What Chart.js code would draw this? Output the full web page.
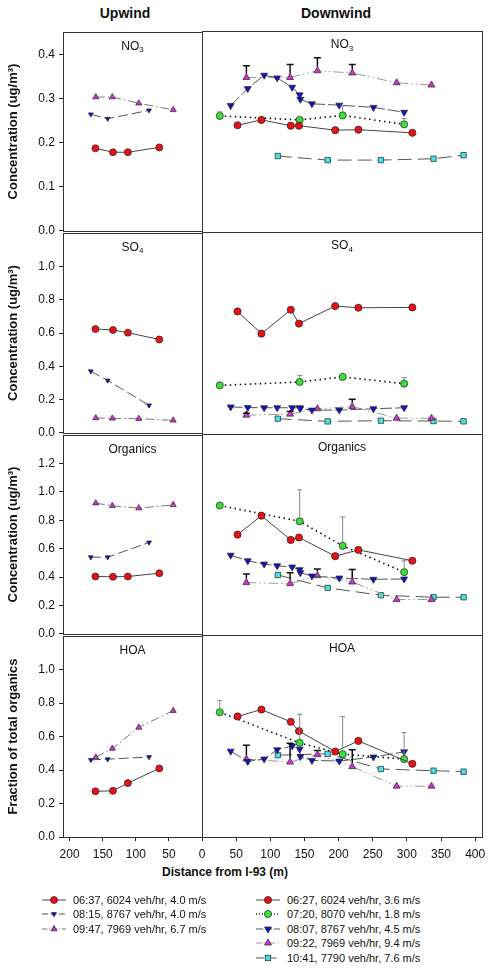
<!DOCTYPE html>
<html>
<head>
<meta charset="utf-8">
<script src="https://cdn.jsdelivr.net/npm/chart.js@4.4.1/dist/chart.umd.min.js"></script>
<style>
  html, body { margin: 0; padding: 0; background: #fff; }
  body { width: 491px; height: 970px; position: relative; overflow: hidden;
         font-family: "Liberation Sans", Arial, sans-serif; color: #111; }
  canvas { position: absolute; }
  .hdr { position: absolute; top: 5px; font-weight: bold; font-size: 14px;
         transform: translateX(-50%); white-space: nowrap; }
  #xtitle { position: absolute; left: 225px; top: 865px; transform: translateX(-50%);
            font-weight: bold; font-size: 12px; white-space: nowrap; }
  .leg { position: absolute; font-size: 11px; white-space: nowrap; line-height: 14px; }
  .leg svg { position: absolute; left: -31px; top: 2px; }
</style>
</head>
<body>
<div class="hdr" style="left:125px">Upwind</div>
<div class="hdr" style="left:336px">Downwind</div>
<div id="xtitle">Distance from I-93 (m)</div>

<script>
// distances from I-93 (m), per run
const upDist0637 = [161, 134.5, 112, 64.5];
const upDist0815 = [168, 142.5, 80];
const upDist0947 = [160.5, 135.5, 95.5, 43.5];
const dnDist0627 = [52, 87, 130, 142, 195, 229, 308];
const dnDist0720 = [26, 143, 206, 296];
const dnDist0807 = [42, 67, 91, 110, 132, 143, 144, 161, 201, 251, 296];
const dnDist0922 = [65, 129, 169, 220, 285, 336];
const dnDist1041 = [111, 184, 262, 339, 383];

// NO3 (ug/m3)
const no3Up0637 = [0.187, 0.178, 0.178, 0.189];
const no3Up0815 = [0.264, 0.254, 0.273];
const no3Up0947 = [0.303, 0.303, 0.289, 0.274];
const no3Dn0627 = [0.239, 0.251, 0.238, 0.238, 0.228, 0.229, 0.222];
const no3Dn0720 = [0.260, 0.251, 0.261, 0.241];
const no3Dn0807 = [0.283, 0.321, 0.351, 0.345, 0.324, 0.307, 0.297, 0.287, 0.284, 0.279, 0.268];
const no3Dn0922 = [0.346, 0.346, 0.361, 0.356, 0.334, 0.329];
const no3Dn1041 = [0.170, 0.161, 0.161, 0.164, 0.172];
const no3Err0720 = [0.269, 0.259, 0.282, 0.254];
const no3Err0922 = [0.372, 0.375, 0.390, 0.375, null, null];

// SO4 (ug/m3)
const so4Up0637 = [0.624, 0.618, 0.602, 0.561];
const so4Up0815 = [0.370, 0.315, 0.165];
const so4Up0947 = [0.089, 0.087, 0.085, 0.075];
const so4Dn0627 = [0.728, 0.596, 0.738, 0.656, 0.760, 0.750, 0.752];
const so4Dn0720 = [0.289, 0.309, 0.339, 0.299];
const so4Dn0807 = [0.161, 0.157, 0.156, 0.156, 0.156, 0.156, 0.152, 0.142, 0.142, 0.150, 0.156];
const so4Dn0922 = [0.112, 0.118, 0.150, 0.163, 0.094, 0.094];
const so4Dn1041 = [0.091, 0.075, 0.079, 0.077, 0.075];
const so4Err0720 = [null, 0.348, null, 0.335];
const so4Err0922 = [0.124, 0.134, null, 0.207, null, null];

// Organics (ug/m3)
const orgUp0637 = [0.404, 0.402, 0.404, 0.427];
const orgUp0815 = [0.540, 0.540, 0.644];
const orgUp0947 = [0.921, 0.902, 0.886, 0.909];
const orgDn0627 = [0.699, 0.831, 0.662, 0.679, 0.549, 0.593, 0.517];
const orgDn0720 = [0.902, 0.792, 0.621, 0.438];
const orgDn0807 = [0.556, 0.517, 0.494, 0.482, 0.473, 0.455, 0.434, 0.411, 0.397, 0.388, 0.390];
const orgDn0922 = [0.365, 0.358, 0.413, 0.369, 0.247, 0.247];
const orgDn1041 = [0.418, 0.328, 0.277, 0.263, 0.263];
const orgErr0720 = [null, 1.011, 0.822, 0.517];
const orgErr0922 = [0.425, 0.434, 0.459, 0.457, null, null];

// HOA (fraction of total organics)
const hoaUp0637 = [0.273, 0.276, 0.322, 0.410];
const hoaUp0815 = [0.461, 0.465, 0.478];
const hoaUp0947 = [0.476, 0.529, 0.655, 0.755];
const hoaDn0627 = [0.716, 0.757, 0.684, 0.629, 0.508, 0.571, 0.435];
const hoaDn0720 = [0.741, 0.559, 0.492, 0.463];
const hoaDn0807 = [0.510, 0.449, 0.463, 0.518, 0.541, 0.522, 0.478, 0.455, 0.451, 0.475, 0.506];
const hoaDn0922 = [0.463, 0.445, 0.490, 0.418, 0.302, 0.302];
const hoaDn1041 = [0.486, 0.494, 0.404, 0.394, 0.388];
const hoaErr0720 = [0.812, 0.729, 0.716, 0.620];
const hoaErr0922 = [0.545, 0.557, 0.514, 0.518, null, null];

// tick labels
const yTicksNO3 = [0, 0.1, 0.2, 0.3, 0.4];
const yTicksSO4 = [0, 0.2, 0.4, 0.6, 0.8, 1.0];
const yTicksOrg = [0, 0.2, 0.4, 0.6, 0.8, 1.0, 1.2];
const yTicksHOA = [0, 0.2, 0.4, 0.6, 0.8, 1.0];
const xTicksUp = [200, 150, 100, 50];
const xTicksDn = [0, 50, 100, 150, 200, 250, 300, 350, 400];

const upLabels = ['06:37, 6024 veh/hr, 4.0 m/s', '08:15, 8767 veh/hr, 4.0 m/s', '09:47, 7969 veh/hr, 6.7 m/s'];
const dnLabels = ['06:27, 6024 veh/hr, 3.6 m/s', '07:20, 8070 veh/hr, 1.8 m/s', '08:07, 8767 veh/hr, 4.5 m/s',
                  '09:22, 7969 veh/hr, 9.4 m/s', '10:41, 7790 veh/hr, 7.6 m/s'];

// styles
const RED = 'rgb(232,18,22)', GREEN = 'rgb(60,222,60)', BLUE = 'rgb(18,18,205)',
      MAG = 'rgb(214,48,214)', CYAN = 'rgb(70,226,232)';
const upStyles = [
  { color: RED, shape: 'circle', rot: 0, r: 3.5, dash: [], line: '#444', lw: 1 },
  { color: BLUE, shape: 'triangle', rot: 180, r: 2.8, dash: [10, 4], line: '#555', lw: 1 },
  { color: MAG, shape: 'triangle', rot: 0, r: 3.5, dash: [9, 3, 1.5, 3], line: '#777', lw: 1 },
];
const dnStyles = [
  { color: RED, shape: 'circle', rot: 0, r: 3.6, dash: [], line: '#444', lw: 1 },
  { color: GREEN, shape: 'circle', rot: 0, r: 3.6, dash: [1.5, 3.5], line: '#111', lw: 1.6 },
  { color: BLUE, shape: 'triangle', rot: 180, r: 4, dash: [12, 3], line: '#555', lw: 1 },
  { color: MAG, shape: 'triangle', rot: 0, r: 4, dash: [10, 3, 1.5, 3, 1.5, 3], line: '#999', lw: 1 },
  { color: CYAN, shape: 'rect', rot: 0, r: 3.8, dash: [14, 6], line: '#555', lw: 1 },
];
const errStyles = { 1: { color: '#888', width: 1, cap: 2.5 }, 3: { color: '#111', width: 1.5, cap: 3.5 } };

const panels = [
  { name: 'NO', sub: '3', max: 0.45, ticks: yTicksNO3, title: 'Concentration (ug/m³)',
    up: [no3Up0637, no3Up0815, no3Up0947],
    dn: [no3Dn0627, no3Dn0720, no3Dn0807, no3Dn0922, no3Dn1041], err: { 1: no3Err0720, 3: no3Err0922 } },
  { name: 'SO', sub: '4', max: 1.2, ticks: yTicksSO4, title: 'Concentration (ug/m³)',
    up: [so4Up0637, so4Up0815, so4Up0947],
    dn: [so4Dn0627, so4Dn0720, so4Dn0807, so4Dn0922, so4Dn1041], err: { 1: so4Err0720, 3: so4Err0922 } },
  { name: 'Organics', sub: '', max: 1.4, ticks: yTicksOrg, title: 'Concentration (ug/m³)',
    up: [orgUp0637, orgUp0815, orgUp0947],
    dn: [orgDn0627, orgDn0720, orgDn0807, orgDn0922, orgDn1041], err: { 1: orgErr0720, 3: orgErr0922 } },
  { name: 'HOA', sub: '', max: 1.2, ticks: yTicksHOA, title: 'Fraction of total organics',
    up: [hoaUp0637, hoaUp0815, hoaUp0947],
    dn: [hoaDn0627, hoaDn0720, hoaDn0807, hoaDn0922, hoaDn1041], err: { 1: hoaErr0720, 3: hoaErr0922 } },
];
const upDists = [upDist0637, upDist0815, upDist0947];
const dnDists = [dnDist0627, dnDist0720, dnDist0807, dnDist0922, dnDist1041];

const rowTops = [31, 232, 434, 635, 837];
const FONT = '"Liberation Sans", Arial, sans-serif';
Chart.defaults.font.family = FONT;
Chart.defaults.color = '#111';

// panel frame + label
const panelDeco = {
  id: 'panelDeco',
  beforeDatasetsDraw(chart, args, opts) {
    const { left, top, right, bottom } = chart.chartArea;
    const ctx = chart.ctx;
    ctx.save();
    ctx.strokeStyle = '#333';
    ctx.lineWidth = 1;
    ctx.strokeRect(Math.floor(left) + 0.5, Math.floor(top) + 0.5, Math.round(right - left), Math.round(bottom - top));
    // panel name, with optional subscript
    ctx.fillStyle = '#111';
    ctx.textBaseline = 'middle';
    ctx.font = '12px ' + FONT;
    const w1 = ctx.measureText(opts.name).width;
    ctx.font = '8px ' + FONT;
    const w2 = opts.sub ? ctx.measureText(opts.sub).width : 0;
    const x0 = (left + right) / 2 - (w1 + w2) / 2;
    const y0 = top + 14;
    ctx.textAlign = 'left';
    ctx.font = '12px ' + FONT;
    ctx.fillText(opts.name, x0, y0);
    if (opts.sub) {
      ctx.font = '8px ' + FONT;
      ctx.fillText(opts.sub, x0 + w1, y0 + 4);
    }
    ctx.restore();
  }
};

// upper error bars
const errBars = {
  id: 'errBars',
  afterDatasetsDraw(chart) {
    const ctx = chart.ctx, ys = chart.scales.y;
    chart.data.datasets.forEach((ds, i) => {
      if (!ds.errTop) return;
      const meta = chart.getDatasetMeta(i);
      ds.errTop.forEach((e, j) => {
        if (e == null) return;
        const pt = meta.data[j];
        const yTop = ys.getPixelForValue(e);
        ctx.save();
        ctx.strokeStyle = ds.errColor;
        ctx.lineWidth = ds.errWidth;
        ctx.beginPath();
        ctx.moveTo(pt.x, pt.y - ds.pointRadius);
        ctx.lineTo(pt.x, yTop);
        ctx.moveTo(pt.x - ds.errCap, yTop);
        ctx.lineTo(pt.x + ds.errCap, yTop);
        ctx.stroke();
        ctx.restore();
      });
    });
  }
};

function makeDataset(xs, ys, st, err, es) {
  const ds = {
    data: xs.map((x, i) => ({ x: x, y: ys[i] })),
    borderColor: st.line,
    borderWidth: st.lw,
    borderDash: st.dash,
    tension: 0,
    pointStyle: st.shape,
    pointRotation: st.rot,
    pointRadius: st.r,
    pointBackgroundColor: st.color,
    pointBorderColor: '#222',
    pointBorderWidth: 0.7,
    clip: false,
  };
  if (err) {
    ds.errTop = err;
    ds.errColor = es.color;
    ds.errWidth = es.width;
    ds.errCap = es.cap;
  }
  return ds;
}

function makePanel(p, row, side) {
  const isUp = side === 'up';
  const top = rowTops[row], bottom = rowTops[row + 1];
  const last = row === 3;
  const padTop = 10, axisH = 30, padBottom = last ? 0 : 10;
  // plot area: upwind 63..202, downwind 202..482
  const left = isUp ? 0 : 190;
  const width = isUp ? 220 : 310;
  const padL = isUp ? 0 : 12;
  const padR = isUp ? 18 : 310 - (482 - 190);
  const cv = document.createElement('canvas');
  const height = padTop + (bottom - top) + (last ? axisH : padBottom);
  cv.width = width;
  cv.height = height;
  cv.style.left = left + 'px';
  cv.style.top = (top - padTop) + 'px';
  document.body.appendChild(cv);

  const datasets = isUp
    ? p.up.map((ys, k) => makeDataset(upDists[k], ys, upStyles[k]))
    : p.dn.map((ys, k) => makeDataset(dnDists[k], ys, dnStyles[k], p.err[k], errStyles[k]));

  const xScale = {
    type: 'linear',
    min: 0,
    max: isUp ? 210 : 410,
    reverse: isUp,
    display: last,
    afterBuildTicks: s => { s.ticks = (isUp ? xTicksUp : xTicksDn).map(v => ({ value: v })); },
    ticks: { font: { size: 12 }, padding: 6, maxRotation: 0, autoSkip: false, color: '#111' },
    grid: { display: true, drawOnChartArea: false, drawTicks: true, tickLength: 4, color: '#222' },
    border: { display: false },
  };
  if (last) xScale.afterFit = s => { s.height = axisH; };

  const yScale = {
    type: 'linear',
    min: 0,
    max: p.max,
    display: isUp,
    afterBuildTicks: s => { s.ticks = p.ticks.map(v => ({ value: v })); },
    ticks: { font: { size: 12 }, padding: 4, color: '#111', callback: v => v.toFixed(1) },
    grid: { display: true, drawOnChartArea: false, drawTicks: true, tickLength: 4, color: '#222' },
    border: { display: false },
    title: { display: true, text: p.title, font: { size: 13, weight: 'bold' }, padding: { top: 6, bottom: 0 }, color: '#111' },
  };
  if (isUp) yScale.afterFit = s => { s.width = 63; };

  new Chart(cv, {
    type: 'line',
    data: { datasets: datasets },
    options: {
      responsive: false,
      animation: false,
      events: [],
      layout: {
        autoPadding: false,
        padding: { left: padL, right: padR, top: padTop, bottom: padBottom },
      },
      scales: { x: xScale, y: yScale },
      plugins: {
        legend: { display: false },
        tooltip: { enabled: false },
        panelDeco: { name: p.name, sub: p.sub },
      },
    },
    plugins: [panelDeco, errBars],
  });
}

panels.forEach((p, row) => {
  makePanel(p, row, 'up');
  makePanel(p, row, 'dn');
});

// legend
function markerSvg(st) {
  const r = st.r;
  let m;
  if (st.shape === 'circle') {
    m = `<circle cx="12" cy="5" r="${r}" fill="${st.color}" stroke="#222" stroke-width="0.7"/>`;
  } else if (st.shape === 'rect') {
    const h = r * 0.72;
    m = `<rect x="${12 - h}" y="${5 - h}" width="${2 * h}" height="${2 * h}" fill="${st.color}" stroke="#222" stroke-width="0.7"/>`;
  } else {
    const a = r, b = r * 0.866;
    const pts = st.rot === 180
      ? `12,${5 + a} ${12 + b},${5 - a / 2} ${12 - b},${5 - a / 2}`
      : `12,${5 - a} ${12 + b},${5 + a / 2} ${12 - b},${5 + a / 2}`;
    m = `<polygon points="${pts}" fill="${st.color}" stroke="#222" stroke-width="0.7"/>`;
  }
  const dash = st.dash.length ? `stroke-dasharray="${st.dash.map(d => d * 0.6).join(',')}"` : '';
  return `<svg width="24" height="10"><line x1="0" y1="5" x2="24" y2="5" stroke="${st.line}" stroke-width="${st.lw}" ${dash}/>${m}</svg>`;
}
function addLegend(labels, styles, x, y0) {
  labels.forEach((lab, i) => {
    const d = document.createElement('div');
    d.className = 'leg';
    d.style.left = x + 'px';
    d.style.top = (y0 + i * 14.4) + 'px';
    d.innerHTML = markerSvg(styles[i]) + lab;
    document.body.appendChild(d);
  });
}
addLegend(upLabels, upStyles, 73, 893);
addLegend(dnLabels, dnStyles, 287, 893);
</script>
</body>
</html>
